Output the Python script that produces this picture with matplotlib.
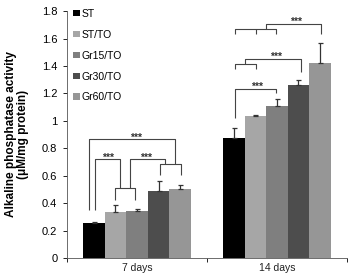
import matplotlib
matplotlib.use("Agg")
import matplotlib.pyplot as plt
import numpy as np

groups = ["7 days", "14 days"]
series = ["ST", "ST/TO", "Gr15/TO", "Gr30/TO", "Gr60/TO"]
colors = ["#000000", "#a6a6a6", "#7f7f7f", "#4d4d4d", "#969696"]
values = [
    [0.255, 0.335, 0.34, 0.49, 0.50],   # 7 days
    [0.875, 1.035, 1.108, 1.26, 1.42],  # 14 days
]
errors = [
    [0.01, 0.05, 0.02, 0.07, 0.03],
    [0.075, 0.01, 0.05, 0.04, 0.15],
]

plt.rcParams["font.family"] = ["Liberation Sans", "DejaVu Sans"]
fig = plt.figure(figsize=(3.55, 2.77), dpi=100)
ax = fig.add_axes([0.189, 0.0686, 0.788, 0.8914])

w = 0.154
x = np.arange(len(groups))
for i, (name, c) in enumerate(zip(series, colors)):
    vals = [values[g][i] for g in range(len(groups))]
    errs = [errors[g][i] for g in range(len(groups))]
    ax.bar(x + (i - 2) * w, vals, w, color=c, label=name, zorder=2)
    ax.errorbar(x + (i - 2) * w, vals, yerr=[[0] * len(errs), errs], fmt="none",
                ecolor="#333333", elinewidth=0.9, capsize=1.8, capthick=0.9, zorder=3)

ax.set_xlim(-0.5, 1.5)
ax.set_ylim(0, 1.8)
ax.set_yticks(np.arange(0, 1.81, 0.2))
ax.set_yticklabels(["0", "0.2", "0.4", "0.6", "0.8", "1", "1.2", "1.4", "1.6", "1.8"], fontsize=8)
ax.set_xticks([-0.5, 0.5, 1.5])
ax.set_xticklabels([])
ax.tick_params(axis="x", length=3, direction="out", width=0.6)
ax.tick_params(axis="y", length=3, direction="out", width=0.6, pad=4)
for g, name in enumerate(groups):
    ax.text(g, -0.04, name, ha="center", va="top", fontsize=7.5, color="#222222")
for s in ["top", "right"]:
    ax.spines[s].set_visible(False)
for s in ["left", "bottom"]:
    ax.spines[s].set_linewidth(0.6)
    ax.spines[s].set_color("#555555")

ax.set_ylabel("Alkaline phosphatase activity\n(\u03bcM/mg protein)", fontsize=8.5,
              fontweight="bold", labelpad=9, linespacing=1.05)

# significance brackets (pixel measurements converted to data)
def px(xp):
    return (xp - 137) / 140.0

def py(yp):
    return (258 - yp) / 137.2

def path(pts):
    xs = [px(p[0]) for p in pts]
    ys = [py(p[1]) for p in pts]
    ax.plot(xs, ys, color="#444444", lw=0.8, zorder=4, solid_capstyle="butt")

def stars(xp, yp):
    ax.text(px(xp), py(yp), "***", ha="center", va="center", fontsize=7.5,
            fontweight="bold", color="#333333")

# 7 days
path([(89, 210), (89, 139), (175, 139), (175, 164)])
path([(95, 210), (95, 159), (120, 159), (120, 188)])
path([(130, 188), (130, 159), (165, 159), (165, 164)])
path([(115, 200), (115, 188), (135, 188), (135, 200)])
path([(160, 175), (160, 164), (181, 164), (181, 175)])
stars(136, 138)
stars(108, 158)
stars(146, 158)
# 14 days
path([(235, 34), (235, 29), (276, 29), (276, 34)])
path([(256, 29), (256, 34)])
path([(266, 29), (266, 24), (321, 24), (321, 34)])
path([(235, 69), (235, 64), (256, 64), (256, 69)])
path([(245, 64), (245, 59), (301, 59), (301, 72)])
path([(235, 118), (235, 89), (276, 89), (276, 93)])
stars(296, 22)
stars(276, 57)
stars(257, 87)

leg = ax.legend(loc="upper left", bbox_to_anchor=(0.0, 1.035), frameon=False, fontsize=7.5,
                handlelength=0.5, handleheight=0.5, handletextpad=0.25, labelspacing=1.05,
                borderaxespad=0.2)
for h in leg.legend_handles:
    h.set_height(4.5)
    h.set_width(4.5)

fig.savefig("out.png", dpi=100)
